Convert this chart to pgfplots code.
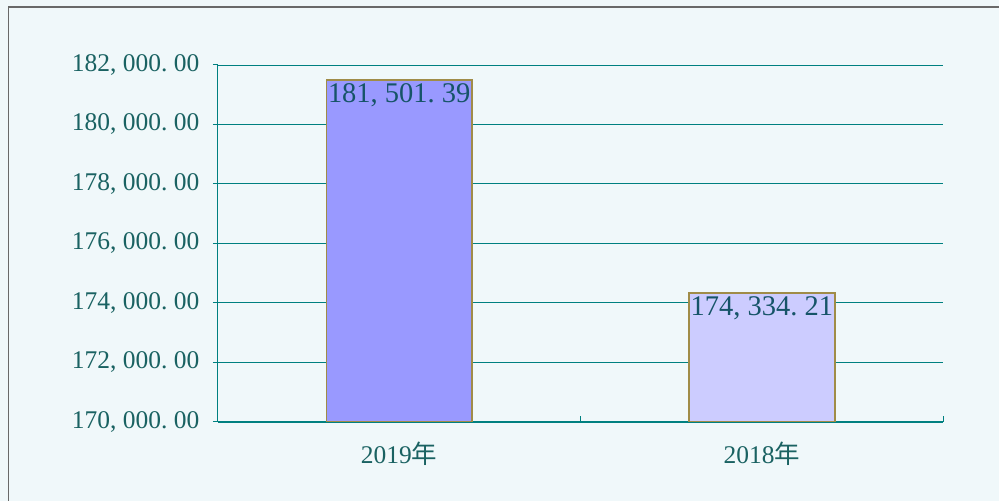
\documentclass[border=0pt]{standalone}
\usepackage{fontspec}
\setmainfont{Liberation Serif}
\newfontfamily\cjk{Noto Sans CJK SC}
\usepackage{pgfplots}
\pgfplotsset{compat=1.18}
\definecolor{bgcol}{RGB}{240,248,250}
\definecolor{framecol}{RGB}{105,105,105}
\definecolor{tealline}{RGB}{0,128,128}
\definecolor{ticktext}{RGB}{26,98,98}
\definecolor{bartext}{RGB}{22,84,104}
\definecolor{barA}{RGB}{153,153,255}
\definecolor{barB}{RGB}{204,204,255}
\definecolor{barline}{RGB}{160,140,72}
% half-width cell for punctuation, like the original monospaced font
\newcommand\p[1]{\makebox[0.5em][l]{#1}}

\begin{document}
\begin{tikzpicture}[x=1pt,y=1pt]
\fill[bgcol] (0,0) rectangle (1000,501);
\draw[framecol, line width=1.5pt] (8.75,0) -- (8.75,493.75) -- (1000,493.75);
\begin{axis}[
    at={(218pt,79pt)}, anchor=south west,
    width=726pt, height=357pt, scale only axis,
    ymin=170000, ymax=182000,
    xmin=-0.5, xmax=1.5,
    scaled y ticks=false,
    axis x line*=bottom, axis y line*=left,
    axis line style={tealline, line width=1pt},
    x axis line style={line width=2pt},
    ymajorgrids, grid style={tealline, line width=0.9pt},
    ytick={170000,172000,174000,176000,178000,180000,182000},
    yticklabels={{170\p{,}000\p{.}00},{172\p{,}000\p{.}00},{174\p{,}000\p{.}00},
        {176\p{,}000\p{.}00},{178\p{,}000\p{.}00},{180\p{,}000\p{.}00},{182\p{,}000\p{.}00}},
    y tick label style={font=\fontsize{25.5}{27}\selectfont, text=ticktext, xshift=-10pt},
    ytick style={tealline, line width=1pt},
    tick align=outside, major tick length=5pt,
    xtick={0,1},
    xticklabels={{2019{\cjk 年}},{2018{\cjk 年}}},
    x tick label style={font=\fontsize{25.5}{27}\selectfont, text=ticktext, yshift=-12pt},
    xtick style={draw=none},
    extra x ticks={-0.5,0.5,1.5},
    extra x tick labels={},
    extra x tick style={tick align=inside, major tick length=6pt,
        xtick style={draw=tealline, line width=1.2pt}, grid=none},
    ybar, bar width=146pt,
    nodes near coords,
    point meta=explicit symbolic,
    every node near coord/.append style={anchor=north, inner sep=1pt, yshift=-2pt,
        font=\fontsize{28.5}{30}\selectfont, text=bartext},
]
\addplot[fill=barA, draw=barline, line width=1.5pt, bar shift=0pt]
    coordinates {(0,181501.39) [{181\p{,}501\p{.}39}]};
\addplot[fill=barB, draw=barline, line width=1.5pt, bar shift=0pt]
    coordinates {(1,174334.21) [{174\p{,}334\p{.}21}]};
\end{axis}
\end{tikzpicture}
\end{document}
